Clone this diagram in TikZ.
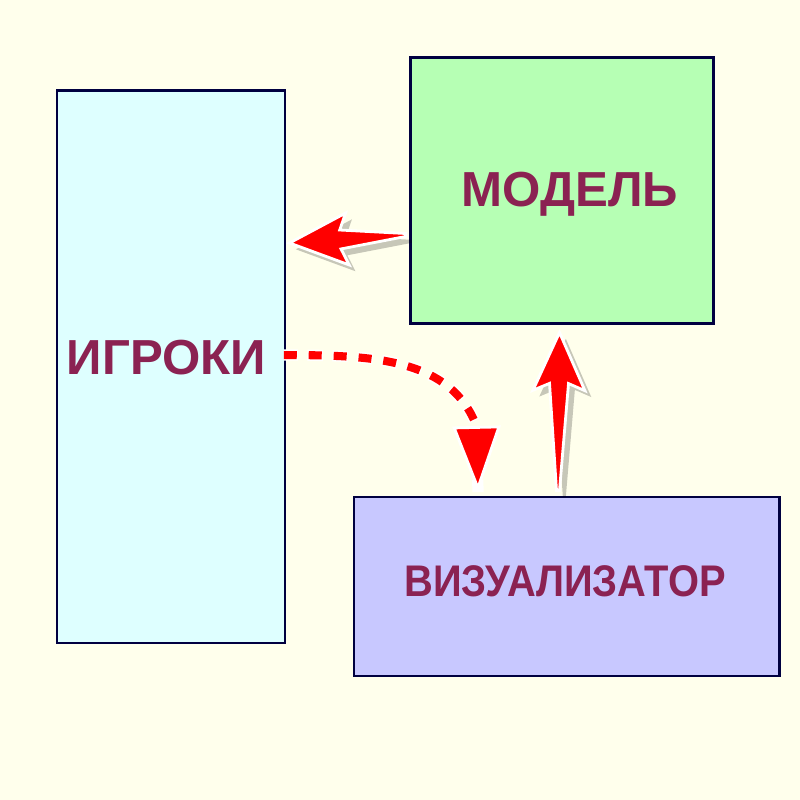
\documentclass[tikz,border=0pt]{standalone}
\usepackage{fontspec}
\setmainfont{Liberation Sans}
\usetikzlibrary{positioning,calc,arrows.meta,shadows}

\definecolor{bgyellow}{RGB}{255,255,236}
\definecolor{playerscyan}{RGB}{222,255,255}
\definecolor{modelgreen}{RGB}{182,255,180}
\definecolor{visualblue}{RGB}{200,200,255}
\definecolor{boxline}{RGB}{0,0,64}
\definecolor{titlered}{RGB}{139,34,82}

% fat tapered arrow from #1 to #2
\newcommand{\fatarrow}[2]{%
  \coordinate (fabarb) at ($(#2)!0.58cm!(#1)$);
  \coordinate (fanotch) at ($(#2)!0.51cm!(#1)$);
  \fill[fatlink] ($(#1)!0.015cm!90:(#2)$) -- ($(fanotch)!0.095cm!90:(#2)$)
    -- ($(fabarb)!0.26cm!90:(#2)$) -- (#2) -- ($(fabarb)!0.26cm!-90:(#2)$)
    -- ($(fanotch)!0.095cm!-90:(#2)$) -- ($(#1)!0.015cm!-90:(#2)$) -- cycle;}

\begin{document}
\begin{tikzpicture}[
    box/.style={draw=boxline, line width=0.85pt, inner sep=0pt},
    title/.style={text=titlered, font=\bfseries, anchor=base, inner sep=0.1cm},
    fatlink/.style={fill=red, draw=white, line width=0.8pt,
      drop shadow={shadow xshift=1.8pt, shadow yshift=-1.8pt, opacity=0.22, fill=black}},
    dashlink/.style={draw=red, line width=2.3pt, dash pattern=on 3.7pt off 3.4pt,
      preaction={draw=white, line width=3.2pt, dash pattern=on 4.4pt off 2.7pt,
        dash phase=0.35pt, arrows=-},
      -{Triangle[length=0.66cm, width=0.48cm, color=white, fill=red, line width=0.8pt]}}]
   \fill[bgyellow] (0,0) rectangle (8,8);
   \useasboundingbox (0,0) rectangle (8,8);

   \node[box, fill=playerscyan, minimum width=2.28cm, minimum height=5.52cm] (players) at (1.71,4.33) {};
   \node[box, fill=modelgreen, minimum width=3.03cm, minimum height=2.66cm] (model) at (5.615,6.09) {};
   \node[box, fill=visualblue, minimum width=4.25cm, minimum height=1.79cm] (visual) at (5.665,2.135) {};

   \node[title, font=\bfseries\fontsize{14}{16}\selectfont] (playerstext) at (1.665,4.25) {ИГРОКИ};
   \node[title, font=\bfseries\fontsize{14}{16}\selectfont] (modeltext) at (5.70,5.93) {МОДЕЛЬ};
   \node[title, font=\bfseries\fontsize{12.6}{15}\selectfont] (visualtext) at (5.65,2.03)
     {\scalebox{0.9}[1]{ВИЗУАЛИЗАТОР}};

   \coordinate (modeltail) at ($(model.west)+(-0.03,-0.44)$);
   \coordinate (playerstip) at ($(players.east)+(0.03,1.24)$);
   \coordinate (visualtail) at ($(visual.north)+(-0.085,0.05)$);
   \coordinate (modeltip) at ($(model.south)+(-0.02,-0.07)$);
   \coordinate (dashstart) at ($(playerstext.east)+(0.07,0.03)$);
   \coordinate (dashneck) at (4.765,3.74);
   \coordinate (dashend) at (4.78,3.08);

   \fatarrow{modeltail}{playerstip}
   \fatarrow{visualtail}{modeltip}
   \draw[dashlink] (dashstart) .. controls +(0.88,0) and +(-0.26,0.68) .. (dashneck) -- (dashend);
\end{tikzpicture}
\end{document}
